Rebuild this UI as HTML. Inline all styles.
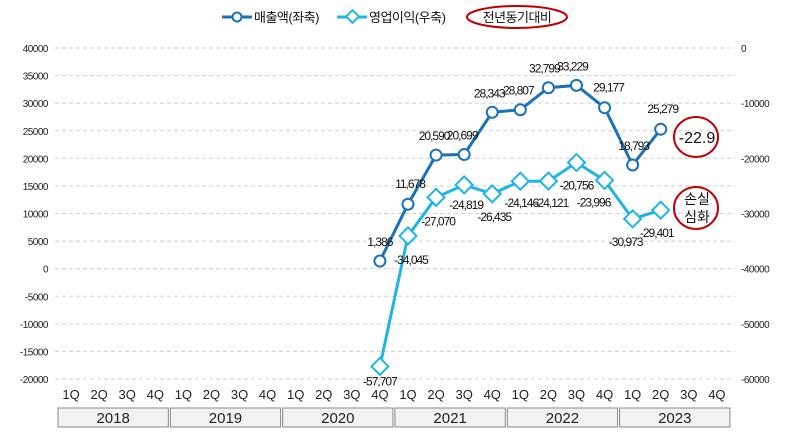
<!DOCTYPE html>
<html><head><meta charset="utf-8"><style>
body{margin:0;background:#fff;font-family:"Liberation Sans","Noto Sans CJK KR",sans-serif;}
svg text{font-family:"Liberation Sans","Noto Sans CJK KR",sans-serif;}
</style></head><body>
<svg id="c" width="788" height="440" xmlns="http://www.w3.org/2000/svg"></svg>
<script>
const years=['2018','2019','2020','2021','2022','2023'];
const quarters=['1Q','2Q','3Q','4Q'];
const revenue=[null,null,null,null,null,null,null,null,null,null,null,1386,11678,20590,20699,28343,28807,32799,33229,29177,18793,25279,null,null];
const opProfit=[null,null,null,null,null,null,null,null,null,null,null,-57707,-34045,-27070,-24819,-26435,-24146,-24121,-20756,-23996,-30973,-29401,null,null];
const leftTicks=[40000,35000,30000,25000,20000,15000,10000,5000,0,-5000,-10000,-15000,-20000];
const rightTicks=[0,-10000,-20000,-30000,-40000,-50000,-60000];
const NS='http://www.w3.org/2000/svg';
const svg=document.getElementById('c');
const plotTop=48,plotBot=379,x0=57,slot=28.08;
const yL=v=>plotTop+(40000-v)/60000*(plotBot-plotTop);
const yR=v=>plotTop+(0-v)/60000*(plotBot-plotTop);
const xI=i=>x0+(i+0.5)*slot;
function el(t,a,txt){const e=document.createElementNS(NS,t);for(const k in a)e.setAttribute(k,a[k]);if(txt!==undefined)e.textContent=txt;svg.appendChild(e);return e;}
leftTicks.forEach(v=>{
 const g=el('line',{x1:55,x2:735,y1:yL(v),y2:yL(v),stroke:'#d0d0d0','stroke-dasharray':'4,3'});
 
 
 const t=el('text',{x:48,y:yL(v)+4,'text-anchor':'end','font-size':10,fill:'#222','letter-spacing':'-0.5'},String(v));
 
 
});
rightTicks.forEach(v=>{
 const t=el('text',{x:741,y:yR(v)+4,'font-size':10,fill:'#222','letter-spacing':'-0.5'},String(v));
 
 
});
for(let i=0;i<24;i++){
 const t=el('text',{x:xI(i),y:399,'text-anchor':'middle','font-size':13,fill:'#222'},quarters[i%4]);
 
 
}
years.forEach((y,k)=>{
 const r=el('rect',{x:x0+k*4*slot+1,y:408,width:4*slot-2,height:19,fill:'#f2f2f2',stroke:'#888'});
 
 
 const t=el('text',{x:x0+k*4*slot+2*slot,y:423,'text-anchor':'middle','font-size':15,fill:'#222'},y);
 
 
});
function path(arr,fy){let d='';arr.forEach((v,i)=>{if(v===null)return;d+=(d?'L':'M')+xI(i)+','+fy(v);});return d;}
const p1=el('path',{d:path(opProfit,yR),fill:'none',stroke:'#1fb4e6','stroke-width':3});


const p2=el('path',{d:path(revenue,yL),fill:'none',stroke:'#1b72b8','stroke-width':3});


const fmt=v=>v.toLocaleString('en-US');
const revOff={11:[0,-15],12:[2,-16],13:[-2,-15],14:[-2,-15],15:[-3,-15],16:[-2,-15],17:[-4,-15],18:[-4,-15],19:[4,-16],20:[1,-15],21:[2,-16]};
const opOff={11:[0,19],12:[3,28],13:[2,28],14:[2,24],15:[2,27],16:[1,26],17:[3,26],18:[0,27],19:[-11,26],20:[-7,27],21:[-4,27]};
opProfit.forEach((v,i)=>{if(v===null)return;const x=xI(i),y=yR(v);
 const m=el('rect',{x:x-6,y:y-6,width:12,height:12,fill:'#fff',stroke:'#1fb4e6','stroke-width':2,transform:`rotate(45 ${x} ${y})`});
 
 
 const o=opOff[i]||[0,22];
 const t=el('text',{x:x+o[0],y:y+o[1],'text-anchor':'middle','font-size':12,fill:'#111','letter-spacing':'-1'},fmt(v));
 
 
});
revenue.forEach((v,i)=>{if(v===null)return;const x=xI(i),y=yL(v);
 const m=el('circle',{cx:x,cy:y,r:5.5,fill:'#fff',stroke:'#1b72b8','stroke-width':2});
 
 
 const o=revOff[i]||[0,-15];
 const t=el('text',{x:x+o[0],y:y+o[1],'text-anchor':'middle','font-size':12,fill:'#111','letter-spacing':'-1'},fmt(v));
 
 
});
let a=el('ellipse',{cx:696,cy:137,rx:22,ry:20,fill:'none',stroke:'#c00000','stroke-width':2});


a=el('text',{x:697,y:143,'text-anchor':'middle','font-size':16,fill:'#111'},'-22.9');


a=el('ellipse',{cx:696,cy:208,rx:22,ry:21,fill:'none',stroke:'#c00000','stroke-width':2});


a=el('text',{x:697,y:204,'text-anchor':'middle','font-size':14,fill:'#111'},'손실');


a=el('text',{x:697,y:222,'text-anchor':'middle','font-size':14,fill:'#111'},'심화');


a=el('line',{x1:222,x2:252,y1:17,y2:17,stroke:'#1b72b8','stroke-width':3});


a=el('circle',{cx:237,cy:17,r:4.5,fill:'#fff',stroke:'#1b72b8','stroke-width':2});


a=el('text',{x:254,y:22,'font-size':13,fill:'#111','letter-spacing':'-0.5'},'매출액(좌축)');


a=el('line',{x1:337,x2:367,y1:17,y2:17,stroke:'#1fb4e6','stroke-width':3});


a=el('rect',{x:348,y:12,width:9,height:9,fill:'#fff',stroke:'#1fb4e6','stroke-width':2,transform:'rotate(45 352.5 16.5)'});


a=el('text',{x:369,y:22,'font-size':13,fill:'#111','letter-spacing':'-0.5'},'영업이익(우축)');


a=el('ellipse',{cx:517,cy:17,rx:50,ry:11,fill:'none',stroke:'#c00000','stroke-width':2});


a=el('text',{x:517,y:22,'text-anchor':'middle','font-size':13,fill:'#111','letter-spacing':'-0.5'},'전년동기대비');


</script>
</body></html>
